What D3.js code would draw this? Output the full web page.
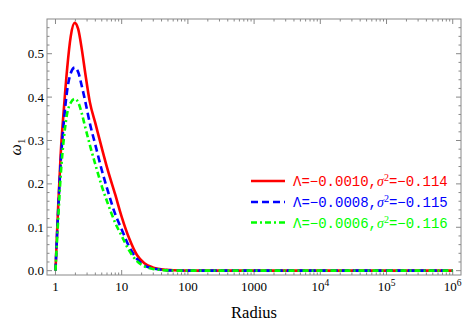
<!DOCTYPE html>
<html><head><meta charset="utf-8">
<script src="https://cdn.jsdelivr.net/npm/d3@7"></script>
</head><body style="margin:0">
<svg id="c" width="463" height="323" style="font-family:'Liberation Serif'"></svg>
<script>
const radius = [1, 1.1, 1.2, 1.35, 1.5, 1.7, 1.95, 2.2, 2.5, 2.8, 3.3, 4, 5, 6, 8, 10, 13, 17, 22, 30, 40, 60, 100, 1000, 10000, 100000, 1000000];
const omegaRed   = [0, 0.15, 0.27, 0.38, 0.465, 0.54, 0.571, 0.557, 0.51, 0.458, 0.389, 0.34, 0.283, 0.238, 0.175, 0.124, 0.074, 0.036, 0.017, 0.007, 0.003, 0.001, 0, 0, 0, 0, 0];
const omegaBlue  = [0, 0.14, 0.25, 0.35, 0.415, 0.455, 0.468, 0.458, 0.425, 0.392, 0.34, 0.29, 0.232, 0.19, 0.13, 0.095, 0.055, 0.027, 0.012, 0.005, 0.002, 0.0005, 0, 0, 0, 0, 0];
const omegaGreen = [0, 0.12, 0.22, 0.31, 0.362, 0.387, 0.396, 0.388, 0.362, 0.332, 0.29, 0.245, 0.195, 0.16, 0.11, 0.08, 0.046, 0.022, 0.01, 0.004, 0.0015, 0.0003, 0, 0, 0, 0, 0];
const seriesNames = ["Λ=−0.0010,", "Λ=−0.0008,", "Λ=−0.0006,"];
const sigmaValues = ["−0.114", "−0.115", "−0.116"];
const colors = ["#ff0000", "#0000ff", "#00ff00"];
const dashes = [null, "7,4", "6,3,2,3"];
const xTickValues = [1, 10, 100, 1000, 10000, 100000, 1000000];
const xTickLabels = ["1", "10", "100", "1000", "10^4", "10^5", "10^6"];
const yTickValues = [0, 0.1, 0.2, 0.3, 0.4, 0.5];

const SERIF = "Liberation Serif";
const MONO = "Liberation Mono";
const svg = d3.select("#c");
const L = 47, R = 461, T = 19, B = 275;
const x = d3.scaleLog().domain([Math.pow(10, -0.128), Math.pow(10, 6.125)]).range([L, R]);
const y = d3.scaleLinear().domain([-0.01, 0.58]).range([B, T]);
const frameCol = "#888";

const xMinor = [];
for (let d = 0; d <= 6; d++) for (let k = 2; k <= 9; k++) { const v = k * Math.pow(10, d); if (v < x.domain()[1]) xMinor.push(v); }
const yMinor = d3.range(0, 0.58, 0.02).filter(v => Math.abs(v * 10 - Math.round(v * 10)) > 1e-6);
const g = svg.append("g");
xTickValues.forEach(v => {
  g.append("line").attr("x1", x(v)).attr("x2", x(v)).attr("y1", B).attr("y2", B - 5).attr("stroke", frameCol);
  g.append("line").attr("x1", x(v)).attr("x2", x(v)).attr("y1", T).attr("y2", T + 5).attr("stroke", frameCol);
});
xMinor.forEach(v => {
  g.append("line").attr("x1", x(v)).attr("x2", x(v)).attr("y1", B).attr("y2", B - 2.5).attr("stroke", frameCol);
  g.append("line").attr("x1", x(v)).attr("x2", x(v)).attr("y1", T).attr("y2", T + 2.5).attr("stroke", frameCol);
});
yTickValues.forEach(v => {
  g.append("line").attr("x1", L).attr("x2", L + 5).attr("y1", y(v)).attr("y2", y(v)).attr("stroke", frameCol);
  g.append("line").attr("x1", R).attr("x2", R - 5).attr("y1", y(v)).attr("y2", y(v)).attr("stroke", frameCol);
});
yMinor.forEach(v => {
  g.append("line").attr("x1", L).attr("x2", L + 2.5).attr("y1", y(v)).attr("y2", y(v)).attr("stroke", frameCol);
  g.append("line").attr("x1", R).attr("x2", R - 2.5).attr("y1", y(v)).attr("y2", y(v)).attr("stroke", frameCol);
});
svg.append("rect").attr("x", L).attr("y", T).attr("width", R - L).attr("height", B - T)
  .attr("fill", "none").attr("stroke", frameCol).attr("stroke-width", 1);

xTickValues.forEach((v, i) => {
  const t = svg.append("text").attr("x", x(v)).attr("y", 291).attr("text-anchor", "middle")
    .style("font-family", SERIF).attr("font-size", 13).attr("fill", "#000");
  const lab = xTickLabels[i];
  if (lab.includes("^")) {
    const [b, e] = lab.split("^");
    t.append("tspan").text(b);
    t.append("tspan").attr("dy", -5).attr("font-size", 9.5).text(e);
  } else t.text(lab);
});
yTickValues.forEach(v => {
  svg.append("text").attr("x", 44).attr("y", y(v) + 4.5).attr("text-anchor", "end")
    .style("font-family", SERIF).attr("font-size", 13).attr("fill", "#000").text(d3.format(".1f")(v));
});
svg.append("text").attr("x", 254).attr("y", 318).attr("text-anchor", "middle")
  .style("font-family", SERIF).attr("font-size", 16.5).attr("fill", "#000").text("Radius");
const yl = svg.append("text").attr("transform", "translate(21,147) rotate(-90)").attr("text-anchor", "middle")
  .style("font-family", SERIF).attr("font-size", 16).attr("fill", "#000");
yl.append("tspan").style("font-style", "italic").text("ω");
yl.append("tspan").attr("dy", 4).attr("font-size", 11).text("1");

const allSeries = [omegaRed, omegaBlue, omegaGreen];
const line = d3.line().x(d => x(d[0])).y(d => y(d[1])).curve(d3.curveMonotoneX);
svg.append("clipPath").attr("id", "clp").append("rect").attr("x", L).attr("y", T).attr("width", R - L).attr("height", B - T);
allSeries.forEach((s, i) => {
  svg.append("path").attr("d", line(radius.map((r, j) => [r, s[j]])))
    .attr("fill", "none").attr("stroke", colors[i]).attr("stroke-width", 2.6)
    .attr("stroke-dasharray", dashes[i]).attr("clip-path", "url(#clp)");
});

const legY = [181, 202, 222.5];
seriesNames.forEach((n, i) => {
  svg.append("line").attr("x1", 251).attr("x2", 285).attr("y1", legY[i]).attr("y2", legY[i])
    .attr("stroke", colors[i]).attr("stroke-width", 2.6).attr("stroke-dasharray", dashes[i]);
  const t = svg.append("text").attr("x", 293).attr("y", legY[i] + 5)
    .style("font-family", MONO).attr("font-size", 14).attr("fill", colors[i]);
  t.append("tspan").text(n);
  t.append("tspan").style("font-family", SERIF).style("font-style", "italic").text("σ");
  t.append("tspan").attr("dy", -5).style("font-family", SERIF).attr("font-size", 10).text("2");
  t.append("tspan").attr("dy", 5).text("=" + sigmaValues[i]);
});
</script>
</body></html>
